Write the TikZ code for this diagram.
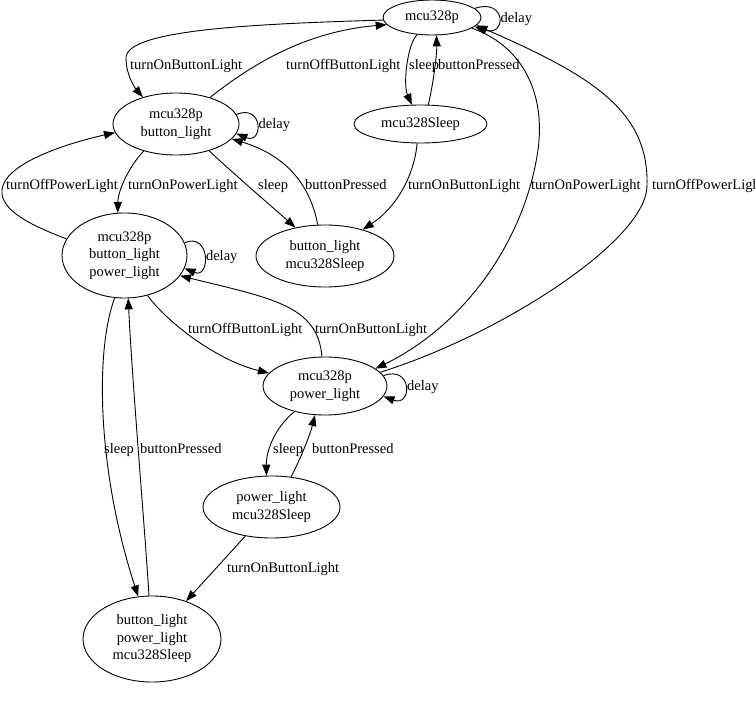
\documentclass[tikz,border=0pt]{standalone}
\usepackage{fontspec}
\setmainfont{Liberation Serif}
\usetikzlibrary{shapes.geometric,arrows.meta}

\begin{document}
\begin{tikzpicture}[x=1pt,y=-1pt,
    font=\fontsize{14.5}{17.5}\selectfont,
    state/.style={draw, ellipse, inner sep=0pt, align=center, line width=0.9pt},
    edge/.style={line width=0.9pt, -{Triangle[length=11pt,width=8pt]}},
    lbl/.style={inner sep=0pt, anchor=west, text height=9.6pt, text depth=0pt}]

    \useasboundingbox (0,0) rectangle (755,708);

    \newcommand{\delayloop}[3]{
        \draw[edge] (#1.#2) .. controls +(#3,-11) and +(#3,11) .. (#1.-#2)
            node[lbl, pos=0.5, xshift=1.5pt] (#1-delay) {delay};
    }

    % states
    \node[state, minimum width=98pt, minimum height=35pt] (m) at (432,17.5) {mcu328p};
    \node[state, minimum width=133pt, minimum height=38pt] (ms) at (420.5,124) {mcu328Sleep};
    \node[state, minimum width=126pt, minimum height=62pt] (mb) at (176,124) {mcu328p\\button\_light};
    \node[state, minimum width=125pt, minimum height=85pt] (mbp) at (124.5,255.5) {mcu328p\\button\_light\\power\_light};
    \node[state, minimum width=138pt, minimum height=62pt] (bs) at (325,256) {button\_light\\mcu328Sleep};
    \node[state, minimum width=124pt, minimum height=58pt] (mp) at (325,386) {mcu328p\\power\_light};
    \node[state, minimum width=137pt, minimum height=62pt] (ps) at (271.5,507) {power\_light\\mcu328Sleep};
    \node[state, minimum width=138pt, minimum height=86pt] (bps) at (152,639) {button\_light\\power\_light\\mcu328Sleep};

    \delayloop{m}{12}{32}
    \delayloop{mb}{9}{27}
    \delayloop{mbp}{12}{26}
    \delayloop{mp}{10}{29}

    % transitions
    \draw[edge] (m.183) .. controls (250,24) and (126,30) .. (126,58)
        .. controls (126,75) and (135,88) .. (mb.141);
    \draw[edge] (mb.38) .. controls (245,70) and (300,32) .. (m.189);
    \draw[edge] (m.229) .. controls (407,45) and (403,85) .. (ms.114);
    \draw[edge] (ms.68) .. controls (433,85) and (437,55) .. (m.284);
    \draw[edge] (mb.220) .. controls (130,165) and (118,190) .. (mbp.99);
    \draw[edge] (mbp.164) .. controls (30,225) and (0,210) .. (2,190)
        .. controls (4,165) and (60,145) .. (mb.188);
    \draw[edge] (mb.321) .. controls (235,175) and (270,205) .. (bs.136);
    \draw[edge] (bs.103) .. controls (312,195) and (295,158) .. (mb.345);
    \draw[edge] (ms.260) .. controls (415,170) and (400,205) .. (bs.35);
    \draw[edge] (m.-15) .. controls (520,45) and (546,90) .. (538,150)
        .. controls (525,240) and (465,325) .. (mp.19);
    \draw[edge] (mp.14) .. controls (500,335) and (648,240) .. (647,185)
        .. controls (649,110) and (590,75) .. (m.-10);
    \draw[edge] (mbp.300) .. controls (165,320) and (215,360) .. (mp.167);
    \draw[edge] (mp.96) .. controls (318,305) and (270,298) .. (mbp.-20);
    \draw[edge] (mp.220) .. controls (272,430) and (266,455) .. (ps.99);
    \draw[edge] (ps.57) .. controls (300,460) and (310,435) .. (mp.251);
    \draw[edge] (ps.228) -- (bps.48);
    \draw[edge] (mbp.257) .. controls (95,350) and (97,470) .. (bps.108);
    \draw[edge] (bps.94) .. controls (145,530) and (132,380) .. (mbp.-85);

    % labels
    \node[lbl] (l1) at (130,65) {turnOnButtonLight};
    \node[lbl] (l2) at (286,65) {turnOffButtonLight};
    \node[lbl] (l3) at (409,65) {sleep};
    \node[lbl] (l4) at (438,65) {buttonPressed};
    \node[lbl] (l5) at (6,185) {turnOffPowerLight};
    \node[lbl] (l6) at (128,185) {turnOnPowerLight};
    \node[lbl] (l7) at (258,185) {sleep};
    \node[lbl] (l8) at (305,185) {buttonPressed};
    \node[lbl] (l9) at (408,185) {turnOnButtonLight};
    \node[lbl] (l10) at (531,185) {turnOnPowerLight};
    \node[lbl] (l11) at (652,185) {turnOffPowerLight};
    \node[lbl] (l12) at (188,329) {turnOffButtonLight};
    \node[lbl] (l13) at (315,329) {turnOnButtonLight};
    \node[lbl] (l14) at (104,449) {sleep};
    \node[lbl] (l15) at (140,449) {buttonPressed};
    \node[lbl] (l16) at (273,449) {sleep};
    \node[lbl] (l17) at (312,449) {buttonPressed};
    \node[lbl] (l18) at (227,568) {turnOnButtonLight};

\end{tikzpicture}
\end{document}
